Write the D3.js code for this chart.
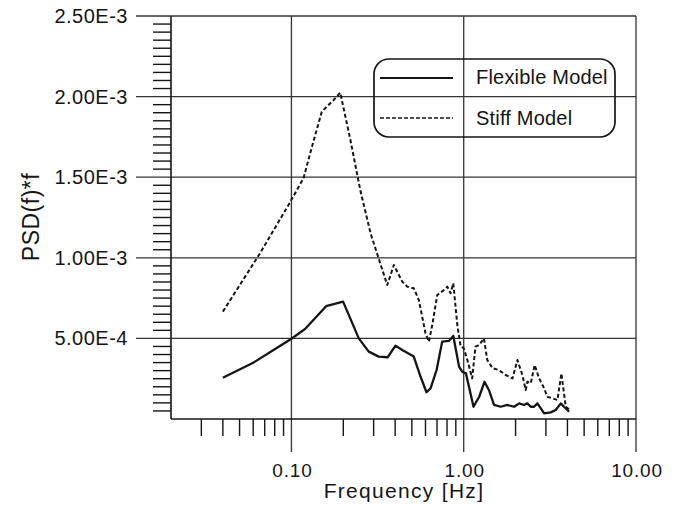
<!DOCTYPE html>
<html><head><meta charset="utf-8">
<script src="https://cdn.jsdelivr.net/npm/d3@7"></script>
<style>
html,body{margin:0;padding:0;background:#fff;}
svg{display:block;}
text{font-family:"Liberation Sans",Arial,sans-serif;fill:#151515;}
</style></head><body>
<svg id="chart" width="675" height="506"></svg>
<script>
// ---- data ----
const flexFreq = [0.04,0.060,0.0787,0.10,0.120,0.159,0.1995,0.246,0.281,0.321,0.362,0.402,0.44,0.513,0.562,0.608,0.642,0.696,0.75,0.82,0.87,0.94,0.98,1.03,1.14,1.23,1.32,1.40,1.50,1.64,1.79,1.96,2.10,2.24,2.34,2.45,2.56,2.68,2.93,3.2,3.42,3.66,3.82,4.09];
const flexPSD  = [0.256e-3,0.349e-3,0.428e-3,0.498e-3,0.558e-3,0.700e-3,0.728e-3,0.500e-3,0.418e-3,0.387e-3,0.383e-3,0.455e-3,0.428e-3,0.387e-3,0.262e-3,0.166e-3,0.190e-3,0.304e-3,0.480e-3,0.484e-3,0.515e-3,0.325e-3,0.293e-3,0.283e-3,0.076e-3,0.138e-3,0.231e-3,0.180e-3,0.087e-3,0.076e-3,0.087e-3,0.076e-3,0.097e-3,0.087e-3,0.097e-3,0.076e-3,0.076e-3,0.097e-3,0.035e-3,0.041e-3,0.056e-3,0.097e-3,0.076e-3,0.045e-3];
const stiffFreq = [0.04,0.0659,0.0962,0.1175,0.1316,0.150,0.1757,0.192,0.22,0.251,0.288,0.329,0.36,0.393,0.44,0.47,0.513,0.549,0.60,0.628,0.657,0.702,0.767,0.803,0.839,0.87,0.918,0.96,1.0,1.05,1.12,1.17,1.23,1.31,1.37,1.47,1.60,1.75,1.92,2.05,2.19,2.29,2.34,2.45,2.58,2.74,2.93,3.06,3.28,3.5,3.69,3.82,3.91,4.09];
const stiffPSD  = [0.666e-3,1.030e-3,1.328e-3,1.493e-3,1.689e-3,1.906e-3,1.979e-3,2.024e-3,1.731e-3,1.420e-3,1.152e-3,0.960e-3,0.831e-3,0.955e-3,0.852e-3,0.821e-3,0.811e-3,0.738e-3,0.532e-3,0.480e-3,0.583e-3,0.769e-3,0.800e-3,0.821e-3,0.780e-3,0.842e-3,0.583e-3,0.449e-3,0.439e-3,0.366e-3,0.252e-3,0.449e-3,0.459e-3,0.500e-3,0.366e-3,0.315e-3,0.304e-3,0.273e-3,0.252e-3,0.366e-3,0.273e-3,0.180e-3,0.231e-3,0.221e-3,0.335e-3,0.252e-3,0.190e-3,0.138e-3,0.128e-3,0.118e-3,0.283e-3,0.159e-3,0.076e-3,0.060e-3];
const seriesNames = ["Flexible Model","Stiff Model"];
const yTickValues = [0.5e-3,1.0e-3,1.5e-3,2.0e-3,2.5e-3];
const yTickLabels = ["5.00E-4","1.00E-3","1.50E-3","2.00E-3","2.50E-3"];
const xTickValues = [0.1,1,10];
const xTickLabels = ["0.10","1.00","10.00"];
const xTitle = "Frequency [Hz]";
const yTitle = "PSD(f)*f";

// ---- layout ----
const svg = d3.select("#chart");
const L = 171, R = 636, T = 16, B = 419;
const x = d3.scaleLog().domain([0.02,10]).range([L,R]);
const y = d3.scaleLinear().domain([0,2.5e-3]).range([B,T]);
const ink = "#151515", gridC = "#333";

// y minor ticks (every 0.05E-3)
const yMinor = d3.range(1,50).map(i=>i*0.05e-3).filter(v=>!yTickValues.some(t=>Math.abs(t-v)<1e-9));
svg.append("g").selectAll("line").data(yMinor).join("line")
  .attr("x1",L-18).attr("x2",L).attr("y1",d=>y(d)).attr("y2",d=>y(d))
  .attr("stroke",ink).attr("stroke-width",1.4);

// x minor ticks
const xMinor = [];
[0.01,0.1,1].forEach(dec=>{for(let k=2;k<=9;k++){const v=k*dec; if(v>0.02+1e-9 && v<10) xMinor.push(v);}});
svg.append("g").selectAll("line").data(xMinor).join("line")
  .attr("x1",d=>x(d)).attr("x2",d=>x(d)).attr("y1",B).attr("y2",B+17)
  .attr("stroke",ink).attr("stroke-width",1.4);

// horizontal grid (major), extending left past axis
svg.append("g").selectAll("line").data(yTickValues).join("line")
  .attr("x1",L-35).attr("x2",R).attr("y1",d=>y(d)).attr("y2",d=>y(d))
  .attr("stroke",gridC).attr("stroke-width",1.3);

// vertical grid (major), extending below axis
svg.append("g").selectAll("line").data(xTickValues).join("line")
  .attr("x1",d=>x(d)).attr("x2",d=>x(d)).attr("y1",T).attr("y2",B+33)
  .attr("stroke",gridC).attr("stroke-width",1.3);

// axes lines
svg.append("line").attr("x1",L).attr("x2",L).attr("y1",T).attr("y2",B).attr("stroke",ink).attr("stroke-width",1.6);
svg.append("line").attr("x1",L).attr("x2",R).attr("y1",B).attr("y2",B).attr("stroke",ink).attr("stroke-width",1.6);

// y tick labels
svg.append("g").selectAll("text").data(yTickValues).join("text")
  .attr("x",128).attr("y",d=>y(d)+7).attr("text-anchor","end")
  .style("font-size","20px").style("letter-spacing","0.5px")
  .text((d,i)=>yTickLabels[i]);

// x tick labels
svg.append("g").selectAll("text").data(xTickValues).join("text")
  .attr("x",d=>x(d)+1).attr("y",477).attr("text-anchor","middle")
  .style("font-size","19px").style("letter-spacing","0.8px")
  .text((d,i)=>xTickLabels[i]);

// titles
svg.append("text").attr("x",404).attr("y",498).attr("text-anchor","middle")
  .style("font-size","21px").style("letter-spacing","1.3px").text(xTitle);
svg.append("text").attr("transform","translate(39,217) rotate(-90)").attr("text-anchor","middle")
  .style("font-size","23px").style("letter-spacing","0.5px").text(yTitle);

// series lines
const line = d3.line().x(d=>x(d[0])).y(d=>y(d[1]));
const flexData = flexFreq.map((f,i)=>[f,flexPSD[i]]);
const stiffData = stiffFreq.map((f,i)=>[f,stiffPSD[i]]);
svg.append("path").datum(stiffData).attr("d",line).attr("fill","none")
  .attr("stroke",ink).attr("stroke-width",2).attr("stroke-dasharray","4,2.5").attr("stroke-linejoin","round");
svg.append("path").datum(flexData).attr("d",line).attr("fill","none")
  .attr("stroke",ink).attr("stroke-width",2.3).attr("stroke-linejoin","round");

// legend
const lg = svg.append("g");
lg.append("rect").attr("x",374).attr("y",59).attr("width",241).attr("height",78).attr("rx",15).attr("ry",15)
  .attr("fill","none").attr("stroke",ink).attr("stroke-width",1.7);
lg.append("line").attr("x1",380).attr("x2",453).attr("y1",78).attr("y2",78).attr("stroke",ink).attr("stroke-width",1.9);
lg.append("line").attr("x1",380).attr("x2",453).attr("y1",118).attr("y2",118).attr("stroke",ink).attr("stroke-width",1.6).attr("stroke-dasharray","4,2");
lg.append("text").attr("x",476).attr("y",84).style("font-size","20px").style("letter-spacing","0.2px").text(seriesNames[0]);
lg.append("text").attr("x",476).attr("y",125).style("font-size","20px").style("letter-spacing","0.2px").text(seriesNames[1]);
</script>
</body></html>
